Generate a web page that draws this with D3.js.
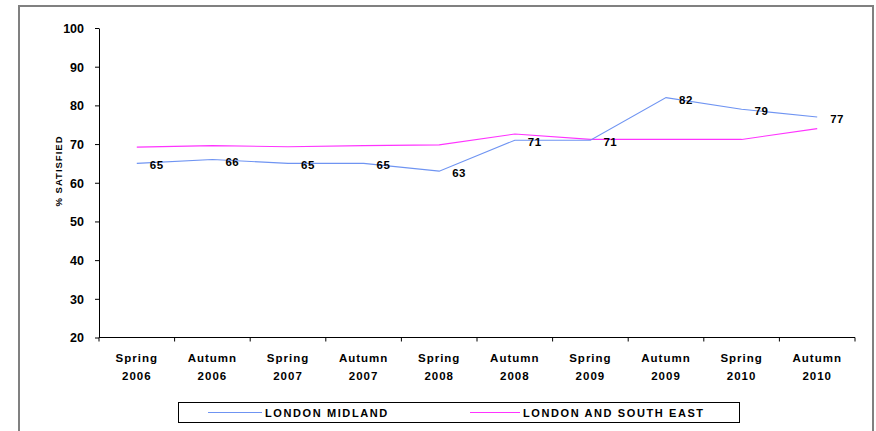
<!DOCTYPE html>
<html>
<head>
<meta charset="utf-8">
<script src="https://cdn.jsdelivr.net/npm/d3@7/dist/d3.min.js"></script>
<style>
  html, body { margin: 0; padding: 0; background: #fff; }
  svg { display: block; font-family: "Liberation Sans", Arial, sans-serif; }
</style>
</head>
<body>
<svg id="chart" width="876" height="431"></svg>
<script>
// Survey waves along the x axis (two-line labels)
const seasons = ["Spring", "Autumn", "Spring", "Autumn", "Spring", "Autumn", "Spring", "Autumn", "Spring", "Autumn"];
const years   = ["2006", "2006", "2007", "2007", "2008", "2008", "2009", "2009", "2010", "2010"];

// Percentage of passengers satisfied
const londonMidland = [65, 66, 65, 65, 63, 71, 71, 82, 79, 77];
const londonSouthEast = [69.2, 69.6, 69.3, 69.6, 69.8, 72.6, 71.2, 71.2, 71.2, 74.0];

const yTicks = [20, 30, 40, 50, 60, 70, 80, 90, 100];

const seriesNames = ["LONDON MIDLAND", "LONDON AND SOUTH EAST"];
const seriesColors = ["#6f94f2", "#ff33ff"];

const svg = d3.select("#chart");

// Outer frame
svg.append("path")
  .attr("d", "M19,440 V6 H873 V440")
  .attr("fill", "none")
  .attr("stroke", "#808080")
  .attr("stroke-width", 2);

const plot = { left: 99, right: 855, top: 28, bottom: 337.5 };

const x = d3.scaleBand()
  .domain(d3.range(seasons.length))
  .range([plot.left, plot.right])
  .paddingInner(0).paddingOuter(0);

const y = d3.scaleLinear().domain([20, 100]).range([plot.bottom, plot.top]);

const cx = i => x(i) + x.bandwidth() / 2;

// Y axis
const yAxis = svg.append("g")
  .attr("transform", `translate(${plot.left},0)`)
  .call(d3.axisLeft(y).tickValues(yTicks).tickSize(4).tickPadding(11).tickSizeOuter(0));
yAxis.select(".domain").attr("stroke", "#000").attr("stroke-width", 1);
yAxis.selectAll(".tick line").attr("stroke", "#000");
yAxis.selectAll(".tick text")
  .attr("font-size", 12.5).attr("font-weight", "bold").attr("fill", "#000")
  .attr("font-family", "Liberation Sans, Arial, sans-serif")
  .attr("dy", "0.35em");

// X axis with ticks on the band boundaries
const xAxisG = svg.append("g").attr("transform", `translate(0,${plot.bottom})`);
xAxisG.append("line")
  .attr("x1", plot.left).attr("x2", plot.right)
  .attr("stroke", "#000").attr("stroke-width", 1);
const bounds = d3.range(seasons.length + 1).map(i => i < seasons.length ? x(i) : plot.right);
xAxisG.selectAll("line.tick").data(bounds).join("line")
  .attr("class", "tick")
  .attr("x1", d => d).attr("x2", d => d)
  .attr("y1", 0).attr("y2", 4)
  .attr("stroke", "#000");

const xl = svg.append("g")
  .attr("font-size", 11.5).attr("font-weight", "bold")
  .attr("text-anchor", "middle").attr("fill", "#000")
  .attr("letter-spacing", 1);
xl.selectAll("text.season").data(seasons).join("text")
  .attr("class", "season")
  .attr("x", (d, i) => cx(i)).attr("y", 362)
  .text(d => d);
xl.selectAll("text.year").data(years).join("text")
  .attr("class", "year")
  .attr("x", (d, i) => cx(i)).attr("y", 380)
  .text(d => d);

// Y axis title
svg.append("text")
  .attr("transform", "translate(62,171) rotate(-90)")
  .attr("text-anchor", "middle")
  .attr("font-size", 9.5).attr("font-weight", "bold")
  .attr("letter-spacing", 1)
  .text("% SATISFIED");

// Lines
const line = d3.line().x((d, i) => cx(i)).y(d => y(d));
[londonSouthEast, londonMidland].forEach((vals, k) => {
  svg.append("path")
    .datum(vals)
    .attr("fill", "none")
    .attr("stroke", k === 0 ? seriesColors[1] : seriesColors[0])
    .attr("stroke-width", 1.1)
    .attr("d", line);
});

// Value labels for London Midland
svg.append("g")
  .attr("font-size", 11.5).attr("font-weight", "bold").attr("fill", "#000")
  .attr("letter-spacing", 0.5)
  .selectAll("text").data(londonMidland).join("text")
  .attr("x", (d, i) => cx(i) + 13)
  .attr("y", d => y(d) + 6)
  .text(d => d);

// Legend
const lg = svg.append("g");
lg.append("rect")
  .attr("x", 178.5).attr("y", 402.5).attr("width", 561).attr("height", 20)
  .attr("fill", "#fff").attr("stroke", "#000").attr("stroke-width", 1);
const legendItems = [
  { lineX: 208, lineW: 54, textX: 265 },
  { lineX: 470, lineW: 50, textX: 523 }
];
legendItems.forEach((it, k) => {
  lg.append("line")
    .attr("x1", it.lineX).attr("x2", it.lineX + it.lineW)
    .attr("y1", 412.5).attr("y2", 412.5)
    .attr("stroke", seriesColors[k]).attr("stroke-width", 1.1);
  lg.append("text")
    .attr("x", it.textX).attr("y", 417)
    .attr("font-size", 11).attr("font-weight", "bold")
    .attr("letter-spacing", 1.6)
    .text(seriesNames[k]);
});
</script>
</body>
</html>
